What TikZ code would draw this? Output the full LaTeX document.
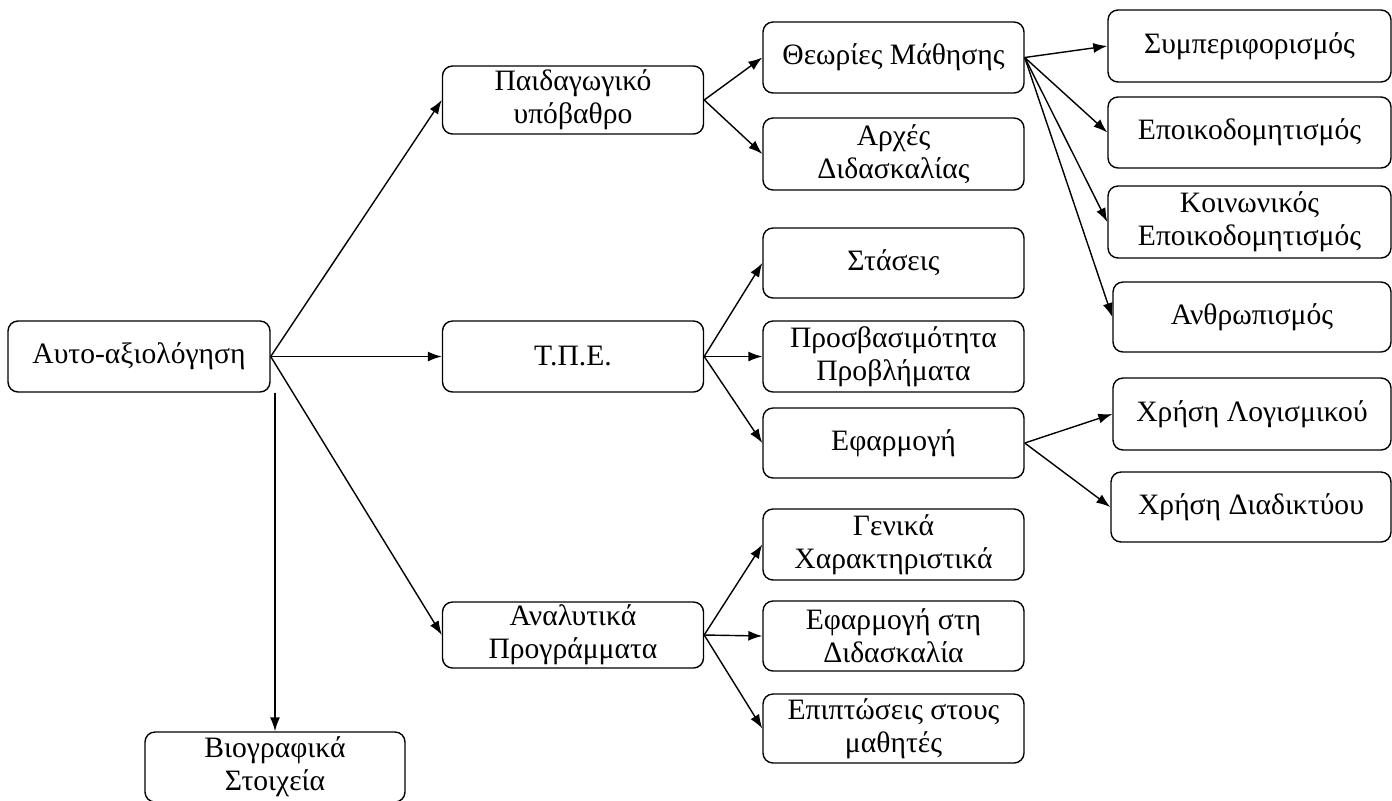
\documentclass[tikz,border=0pt]{standalone}
\usepackage{fontspec}
\setmainfont{Liberation Serif}
\usetikzlibrary{arrows.meta}
\begin{document}
\begin{tikzpicture}[x=0.5pt,y=-0.5pt,
  box/.style={draw=black, line width=0.7pt, rounded corners=5pt, align=center,
    inner sep=0pt, minimum width=130.5pt, minimum height=35.5pt,
    font=\fontsize{14.8}{16.5}\selectfont},
  arr/.style={draw=black, line width=0.7pt, -{Latex[length=7pt,width=5pt]}}]
\useasboundingbox (0,0) rectangle (1392,800);
\node[box, minimum width=131pt] (auto) at (139,356.5) {Αυτο-αξιολόγηση};
\node[box, minimum height=34pt] (paid) at (573,100) {Παιδαγωγικό\\υπόβαθρο};
\node[box] (tpe) at (573,356.5) {Τ.Π.Ε.};
\node[box, minimum height=33pt] (ana) at (573,635) {Αναλυτικά\\Προγράμματα};
\node[box, minimum width=130pt, minimum height=35pt] (bio) at (275,767) {Βιογραφικά\\Στοιχεία};
\node[box] (theo) at (893.5,57.5) {Θεωρίες Μάθησης};
\node[box, minimum height=36pt] (arx) at (893.5,154) {Αρχές\\Διδασκαλίας};
\node[box, minimum height=35pt] (stas) at (893.5,263) {Στάσεις};
\node[box] (pros) at (893.5,356.5) {Προσβασιμότητα\\Προβλήματα};
\node[box, minimum height=35pt] (efa) at (893.5,443) {Εφαρμογή};
\node[box] (gen) at (893.5,544.5) {Γενικά\\Χαρακτηριστικά};
\node[box, minimum height=35pt] (efs) at (893.5,636) {Εφαρμογή στη\\Διδασκαλία};
\node[box, minimum height=34.5pt] (epi) at (893.5,728.5) {Επιπτώσεις στους\\μαθητές};
\node[box, minimum width=141.5pt, minimum height=36pt] (symp) at (1249.5,46) {Συμπεριφορισμός};
\node[box, minimum width=141.5pt] (epoi) at (1249.5,132.5) {Εποικοδομητισμός};
\node[box, minimum width=141.5pt, minimum height=36pt] (koin) at (1249.5,222) {Κοινωνικός\\Εποικοδομητισμός};
\node[box, minimum width=139pt, minimum height=35pt] (anth) at (1252,317) {Ανθρωπισμός};
\node[box, minimum width=139pt, minimum height=36pt] (log) at (1252,414) {Χρήση Λογισμικού};
\node[box, minimum width=140pt, minimum height=35pt] (dia) at (1251,507) {Χρήση Διαδικτύου};
\draw[arr] (auto.east) -- (paid.west);
\draw[arr] (auto.east) -- (tpe.west);
\draw[arr] (auto.east) -- (ana.west);
\draw[arr] (bio.north |- auto.south) -- (bio.north);
\draw[arr] (paid.east) -- (theo.west);
\draw[arr] (paid.east) -- (arx.west);
\draw[arr] (theo.east) -- (symp.west);
\draw[arr] (theo.east) -- (epoi.west);
\draw[arr] (theo.east) -- (koin.west);
\draw[arr] (theo.east) -- (anth.west);
\draw[arr] (tpe.east) -- (stas.west);
\draw[arr] (tpe.east) -- (pros.west);
\draw[arr] (tpe.east) -- (efa.west);
\draw[arr] (efa.east) -- (log.west);
\draw[arr] (efa.east) -- (dia.west);
\draw[arr] (ana.east) -- (gen.west);
\draw[arr] (ana.east) -- (efs.west);
\draw[arr] (ana.east) -- (epi.west);
\end{tikzpicture}
\end{document}
